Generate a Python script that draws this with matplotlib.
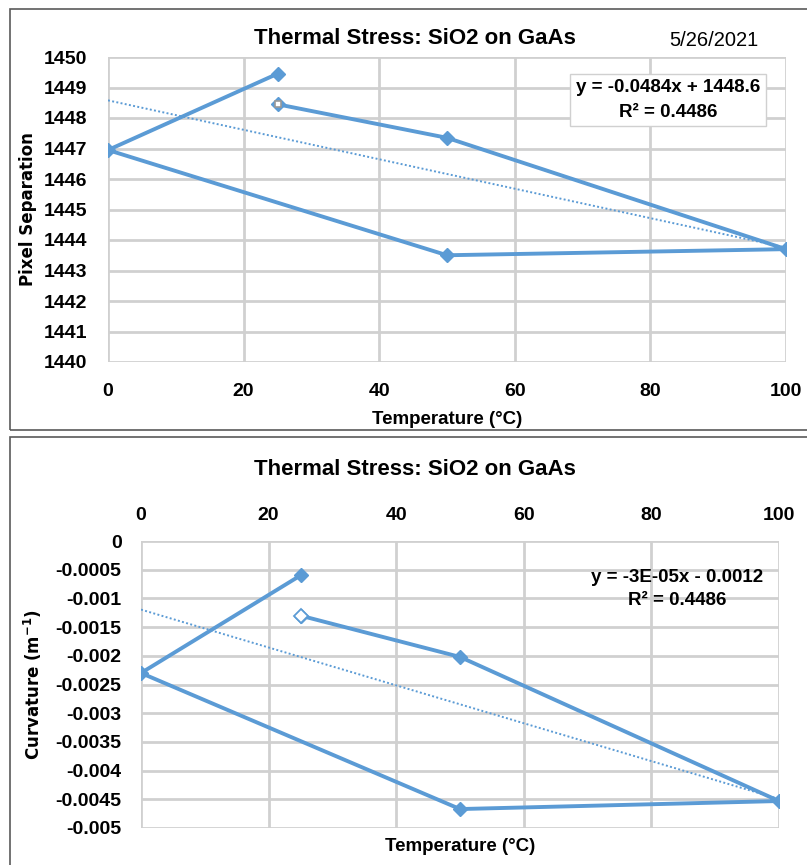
import numpy as np
import matplotlib.pyplot as plt
from matplotlib.patches import Rectangle

plt.rcParams['font.family'] = ['Liberation Sans', 'DejaVu Sans']
plt.rcParams['font.weight'] = 'bold'
plt.rcParams['axes.labelweight'] = 'bold'

# 数据: 温度循环 25 -> 50 -> 100 -> 50 -> 0 -> 25
temp = [25, 50, 100, 50, 0, 25]
pixel_sep = [1448.45, 1447.35, 1443.7, 1443.5, 1446.95, 1449.45]
curvature = [-0.0013, -0.00202, -0.00453, -0.00467, -0.0023, -0.0006]

title = 'Thermal Stress: SiO2 on GaAs'
date_text = '5/26/2021'
eq_top = ['y = -0.0484x + 1448.6', 'R² = 0.4486']
eq_bot = ['y = -3E-05x - 0.0012', 'R² = 0.4486']
x_ticks = [0, 20, 40, 60, 80, 100]
y_ticks_top = list(range(1440, 1451))
y_ticks_bot = [0, -0.0005, -0.001, -0.0015, -0.002, -0.0025, -0.003, -0.0035, -0.004, -0.0045, -0.005]
y_labels_bot = ['0', '-0.0005', '-0.001', '-0.0015', '-0.002', '-0.0025', '-0.003', '-0.0035', '-0.004', '-0.0045', '-0.005']

blue = '#5B9BD5'
grid_c = '#D0D0D0'
W, H = 807, 865

fig = plt.figure(figsize=(W / 100, H / 100), dpi=100)

# 两个面板的边框
for (x0, y0, x1, y1) in [(10, 9, 812, 430), (10, 437, 812, 870)]:
    fig.add_artist(Rectangle((x0 / W, 1 - y1 / H), (x1 - x0) / W, (y1 - y0) / H,
                             transform=fig.transFigure, fill=False, ec='#5a5a5a', lw=1.2))


def style(ax, yt):
    ax.set_xlim(0, 100)
    ax.set_xticks(x_ticks)
    ax.set_yticks(yt)
    ax.grid(True, color=grid_c, lw=2)
    ax.set_axisbelow(True)
    for s in ax.spines.values():
        s.set_visible(False)
    ax.tick_params(length=0, labelsize=14)


def draw(ax, y):
    ax.plot(temp, y, color=blue, lw=2.8, marker='D', ms=7, mfc=blue, mec=blue, zorder=3)
    k, b = np.polyfit(temp, y, 1)
    xs = np.array([0, 100])
    ax.plot(xs, k * xs + b, color=blue, lw=1.4, ls=(0, (1, 1.2)), zorder=2)


# 上图: 像素间距
ax1 = fig.add_axes([108 / W, 1 - 362 / H, 678 / W, 305 / H])
draw(ax1, pixel_sep)
ax1.plot(temp[0], pixel_sep[0], marker='s', ms=5, mfc='white', mec='#999999', mew=1.2, zorder=4)
ax1.set_ylim(1440, 1450)
style(ax1, y_ticks_top)
ax1.tick_params(axis='x', pad=15)
ax1.tick_params(axis='y', pad=15)
ax1.set_xlabel('Temperature (°C)', fontsize=13.5, labelpad=8)
ax1.set_ylabel('Pixel Separation', fontsize=12, family='DejaVu Sans')
ax1.yaxis.set_label_coords((37 - 108) / 678, 0.5)
fig.text(415 / W, 1 - 38 / H, title, ha='center', va='center', fontsize=16)
fig.text(714 / W, 1 - 40 / H, date_text, ha='center', va='center', fontsize=14.5, weight='normal')
ax1.text((668 - 108) / 678, (362 - 100) / 305, eq_top[0] + '\n' + eq_top[1], transform=ax1.transAxes,
         ha='center', va='center', fontsize=13.5, linespacing=1.55,
         bbox=dict(boxstyle='square,pad=0.3', fc='white', ec='#D0D0D0', lw=1))

# 下图: 曲率
ax2 = fig.add_axes([141 / W, 1 - 828 / H, 638 / W, 287 / H])
draw(ax2, curvature)
ax2.plot(temp[0], curvature[0], marker='D', ms=7, mfc='white', mec=blue, mew=1.3, zorder=4)
ax2.set_ylim(-0.005, 0)
style(ax2, y_ticks_bot)
ax2.set_yticklabels(y_labels_bot)
ax2.xaxis.tick_top()
ax2.tick_params(axis='x', pad=12)
ax2.tick_params(axis='y', pad=14)
ax2.set_xlabel('Temperature (°C)', fontsize=13.5, labelpad=7)
ax2.xaxis.set_label_position('bottom')
ax2.set_ylabel('Curvature (m$^{-1}$)', fontsize=12, family='DejaVu Sans')
ax2.yaxis.set_label_coords((44 - 141) / 638, 0.5)
fig.text(415 / W, 1 - 470 / H, title, ha='center', va='center', fontsize=16)
ax2.text((677 - 141) / 638, (828 - 589) / 287, eq_bot[0] + '\n' + eq_bot[1], transform=ax2.transAxes,
         ha='center', va='center', fontsize=13.5, linespacing=1.5)

fig.savefig('out.png', dpi=100)
